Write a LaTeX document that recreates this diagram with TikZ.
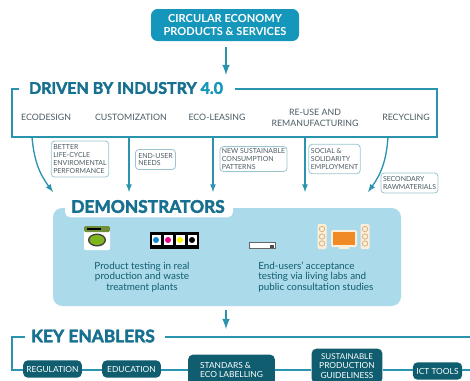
\documentclass[tikz,border=0pt]{standalone}
\usepackage{fontspec}
\setmainfont{Lato}
\newfontfamily\headfont[BoldFeatures={FakeBold=2.5}]{Lato}
\definecolor{topblue}{HTML}{1597BB}
\definecolor{linkblue}{HTML}{2A93AE}
\definecolor{headblue}{HTML}{17708F}
\definecolor{panelblue}{HTML}{ABDAEA}
\definecolor{darkteal}{HTML}{0F5D6E}
\definecolor{inkgray}{HTML}{4A5A62}
\definecolor{notegray}{HTML}{9CC4D0}
\definecolor{washerstrip}{HTML}{6F8F3A}
\definecolor{washergreen}{HTML}{7FB41E}
\definecolor{screenorange}{HTML}{F08A24}
\definecolor{speakercream}{HTML}{FBEFDC}
\definecolor{speakerring}{HTML}{D9B27C}
\tikzset{
  topbox/.style={fill=topblue,rounded corners=5pt,text=white,font=\bfseries\fontsize{8.3}{9.8}\selectfont,align=center,minimum width=111pt,minimum height=24pt},
  heading/.style={text=headblue,inner sep=0pt},
  frameline/.style={draw=linkblue,line width=0.8pt},
  flow/.style={draw=linkblue,line width=1pt,-latex},
  bigflow/.style={draw=linkblue,line width=1.6pt,-latex},
  item/.style={text=inkgray,font=\fontsize{6.6}{8.4}\selectfont,align=center,inner sep=0pt},
  notebox/.style={draw=notegray,rounded corners=2.5pt,line width=0.6pt,text=inkgray,font=\fontsize{5.2}{5.9}\selectfont,align=left,inner sep=1.5pt},
  bodytext/.style={text=darkteal,font=\fontsize{7.4}{7.9}\selectfont,inner sep=0pt},
  enabler/.style={fill=darkteal,rounded corners=3.5pt,text=white,font=\fontsize{6.3}{7.2}\selectfont,inner sep=0pt},
}
\begin{document}
\begin{tikzpicture}[x=0.75pt,y=-0.75pt]
  \useasboundingbox (0,0) rectangle (470,380);
  \clip (0,0) rectangle (470,380);
  \node[topbox] at (225,25) (circular) {CIRCULAR ECONOMY\\PRODUCTS \& SERVICES};
  \node[heading,font=\headfont\bfseries\fontsize{12}{13}\selectfont] at (126,88) (driven) {DRIVEN BY INDUSTRY \textcolor{topblue}{4.0}};
  \coordinate (frameA) at (19,89);
  \coordinate (frameB) at (12,89);
  \coordinate (frameC) at (12,137);
  \coordinate (frameD) at (437,137);
  \coordinate (frameE) at (437,89);
  \coordinate (frameF) at (235,89);
  \draw[frameline] (frameA) -- (frameB) -- (frameC) -- (frameD) -- (frameE) -- (frameF);
  \coordinate (arrowout) at (226,47);
  \coordinate (arrowin) at (226,75);
  \draw[bigflow] (arrowout) -- (arrowin);
  \node[item] at (46,117) (ecodesign) {ECODESIGN};
  \node[item] at (131,117) (customization) {CUSTOMIZATION};
  \node[item] at (217,117) (ecoleasing) {ECO-LEASING};
  \node[item] at (315,118) (reuse) {RE-USE AND\\REMANUFACTURING};
  \node[item] at (406,117) (recycling) {RECYCLING};
  \coordinate (outA) at (32,137);
  \coordinate (outB) at (129,137);
  \coordinate (outC) at (213,137);
  \coordinate (outD) at (305,137);
  \coordinate (outE) at (388,137);
  \coordinate (inA) at (53,192);
  \coordinate (inB) at (129,192);
  \coordinate (inC) at (213,192);
  \coordinate (inD) at (305,192);
  \coordinate (inE) at (368,192);
  \draw[flow] (outA) to[bend right=16] (inA);
  \draw[flow] (outB) -- (inB);
  \draw[flow] (outC) -- (inC);
  \draw[flow] (outD) -- (inD);
  \draw[flow] (outE) to[bend left=16] (inE);
  \node[notebox,minimum width=43pt,minimum height=27pt] at (80,159) (better) {BETTER\\LIFE-CYCLE\\ENVIROMENTAL\\PERFORMANCE};
  \node[notebox,minimum width=30pt,minimum height=15pt] at (155.5,159.5) (needs) {END-USER\\NEEDS};
  \node[notebox,minimum width=49pt,minimum height=18pt] at (253.5,159) (patterns) {NEW SUSTAINABLE\\CONSUMPTION\\PATTERNS};
  \node[notebox,minimum width=35pt,minimum height=22pt] at (334.5,159) (social) {SOCIAL \&\\SOLIDARITY\\EMPLOYMENT};
  \node[notebox,minimum width=41pt,minimum height=15pt] at (409.5,183) (secondary) {SECONDARY\\RAWMATERIALS};
  \node[fill=panelblue,rounded corners=7pt,minimum width=261pt,minimum height=73.5pt] at (227,257) (panel) {};
  \node[fill=white,rounded corners=4pt,minimum width=126pt,minimum height=14pt] at (149,208) (tab) {};
  \node[heading,font=\headfont\bfseries\fontsize{13}{14}\selectfont] at (148,206.5) (demonstrators) {DEMONSTRATORS};
  \fill[white,rounded corners=1pt] (84,226) rectangle (110,250);
  \fill[washerstrip,rounded corners=1pt] (84,226) rectangle (110,232);
  \fill[black] (87,227.5) rectangle (101,230);
  \fill[black!75] (97,240) ellipse (9 and 6.5);
  \fill[washergreen] (97,240) ellipse (7.5 and 5);
  \fill[black] (150,232) rectangle (199,249);
  \foreach \inkx/\inkcol in {156/cyan!70!blue,168/magenta,180/yellow,192/black}{
    \fill[white] (\inkx-4.5,235) rectangle (\inkx+4.5,245);
    \fill[\inkcol] (\inkx,240) circle (3);
  }
  \fill[white,draw=black!60,line width=0.5pt] (249,242) rectangle (275,248);
  \fill[black!70] (270,245) rectangle (274,247.5);
  \foreach \spkx in {322,365}{
    \fill[speakercream,rounded corners=1pt] (\spkx-4.5,224) rectangle (\spkx+4.5,249);
    \foreach \spky in {229,236.5,243.5}
      \draw[speakerring,line width=0.6pt] (\spkx,\spky) circle (2.7);
  }
  \fill[speakercream,rounded corners=1pt] (331,230) rectangle (357,247);
  \fill[screenorange] (333,232) rectangle (355,245);
  \fill[speakercream] (339,247) rectangle (349,249);
  \node[bodytext,align=center] at (142,277) (product) {Product testing in real\\production and waste\\treatment plants};
  \node[bodytext,align=left,anchor=west] at (258,277) (endusers) {End-users' acceptance\\testing via living labs and\\public consultation studies};
  \coordinate (arrowtop) at (226,310);
  \coordinate (arrowbot) at (226,329);
  \draw[bigflow] (arrowtop) -- (arrowbot);
  \node[heading,font=\headfont\bfseries\fontsize{13}{14}\selectfont] at (93,336) (key) {KEY ENABLERS};
  \coordinate (railA) at (25,337);
  \coordinate (railB) at (12,337);
  \coordinate (railC) at (12,370);
  \coordinate (railD) at (165,337);
  \coordinate (railE) at (470,337);
  \coordinate (railF) at (470,370);
  \node[enabler,align=center,minimum width=44pt,minimum height=13pt] at (52.5,369) (regulation) {REGULATION};
  \node[enabler,align=center,minimum width=44pt,minimum height=13pt] at (131.5,369) (education) {EDUCATION};
  \node[enabler,align=left,minimum width=65pt,minimum height=23pt] at (231.5,370) (standars) {STANDARS \&\\ECO LABELLING};
  \node[enabler,align=center,minimum width=53pt,minimum height=26pt] at (347,366) (sustainable) {\fontsize{6}{6.5}\selectfont SUSTAINABLE\\PRODUCTION\\GUIDELINESS};
  \node[enabler,align=center,minimum width=37pt,minimum height=13pt] at (437.5,371) (ict) {ICT TOOLS};
  \draw[frameline] (railA) -- (railB) -- (railC) -- (regulation.west |- railC);
  \draw[frameline] (railD) -- (railE);
  \draw[frameline] (regulation.east |- railC) -- (education.west |- railC);
  \draw[frameline] (education.east |- railC) -- (standars.west |- railC);
  \draw[frameline] (standars.east |- railC) -- (sustainable.west |- railC);
  \draw[frameline] (sustainable.east |- railC) -- (ict.west |- railC);
  \draw[frameline] (ict.east |- railC) -- (railF);
\end{tikzpicture}
\end{document}
